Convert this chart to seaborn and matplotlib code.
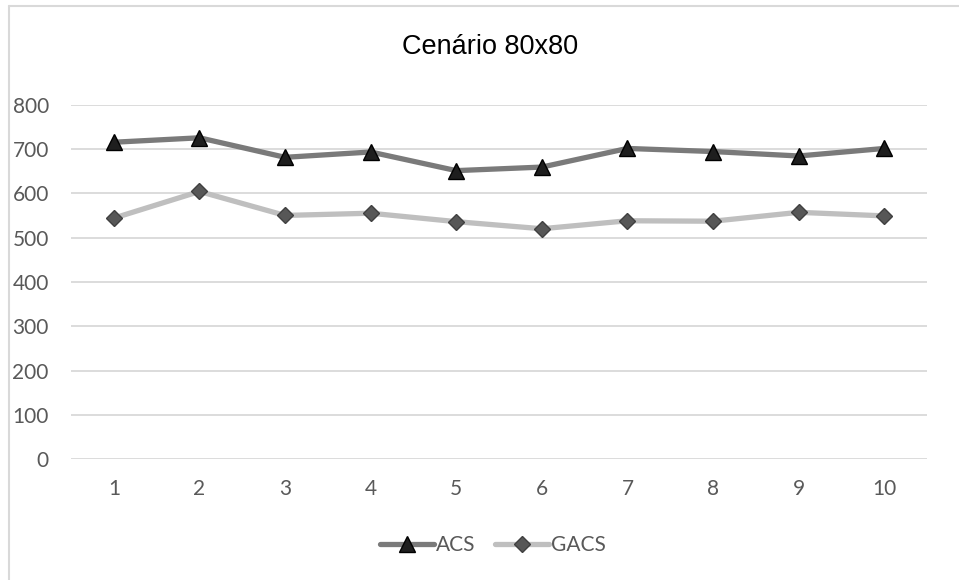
import matplotlib
matplotlib.use("Agg")
import matplotlib.pyplot as plt
from matplotlib.lines import Line2D
import seaborn as sns
import pandas as pd

x_labels = ["1", "2", "3", "4", "5", "6", "7", "8", "9", "10"]
acs = [715, 725, 681, 693, 651, 659, 701, 694, 684, 701]
gacs = [544, 604, 550, 555, 536, 520, 538, 537, 557, 549]
y_ticks = [0, 100, 200, 300, 400, 500, 600, 700, 800]
title = "Cenário 80x80"

sns.set_theme(style="white")
plt.rcParams["font.family"] = ["Lato", "DejaVu Sans"]

xpos = list(range(1, len(x_labels) + 1))
df_acs = pd.DataFrame({"x": xpos, "y": acs})
df_gacs = pd.DataFrame({"x": xpos, "y": gacs})

fig = plt.figure(figsize=(9.59, 5.8), dpi=100)
ax = fig.add_axes([0.0741, 0.2078, 0.8926, 0.612])

sns.lineplot(data=df_acs, x="x", y="y", ax=ax, color="#7a7a7a", linewidth=3.8,
             marker="^", markersize=12, markerfacecolor="#1e1e1e",
             markeredgecolor="#000000", markeredgewidth=1.0, label="ACS", zorder=4)
sns.lineplot(data=df_gacs, x="x", y="y", ax=ax, color="#bfbfbf", linewidth=3.8,
             marker="D", markersize=8.5, markerfacecolor="#575757",
             markeredgecolor="#404040", markeredgewidth=1.0, label="GACS", zorder=3)

ax.set_xlim(0.5, len(x_labels) + 0.5)
ax.set_ylim(0, 800)
ax.set_xticks(xpos)
ax.set_xticklabels(x_labels)
ax.set_yticks(y_ticks)
ax.set_xlabel("")
ax.set_ylabel("")
for s in ax.spines.values():
    s.set_visible(False)
ax.yaxis.grid(True, color="#d9d9d9", linewidth=1.3)
ax.xaxis.grid(False)
ax.set_axisbelow(True)
ax.tick_params(axis="both", length=0, labelsize=15, labelcolor="#595959")
ax.tick_params(axis="y", pad=16)
ax.tick_params(axis="x", pad=14)

fig.text(0.511, 0.919, title, ha="center", va="center", fontsize=19.5,
         color="#000000", family=["Liberation Sans", "DejaVu Sans"])

leg = ax.legend(loc="center", bbox_to_anchor=(0.514, 0.06), bbox_transform=fig.transFigure,
                ncol=2, frameon=False, fontsize=15, handlelength=2.6,
                handletextpad=0.1, columnspacing=0.9)
for t in leg.get_texts():
    t.set_color("#595959")

# chart border (top and left visible)
fig.add_artist(Line2D([8.5 / 959, 8.5 / 959], [0, 1 - 6 / 580], transform=fig.transFigure,
                      color="#d9d9d9", linewidth=1.5))
fig.add_artist(Line2D([8.5 / 959, 1], [1 - 6 / 580, 1 - 6 / 580], transform=fig.transFigure,
                      color="#d9d9d9", linewidth=1.5))

fig.savefig("out.png", dpi=100)
